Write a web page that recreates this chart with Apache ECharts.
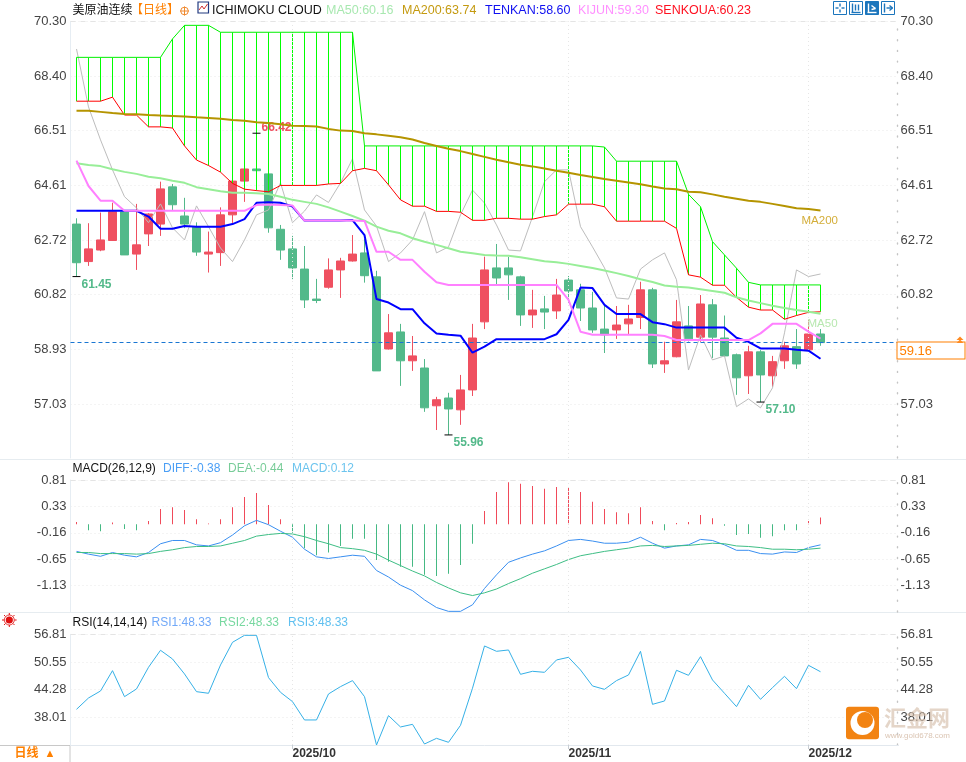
<!DOCTYPE html>
<html>
<head>
<meta charset="utf-8">
<title>美原油连续</title>
<style>
html,body{margin:0;padding:0;background:#fff;}
#chart{width:966px;height:762px;}
</style>
<script src="https://cdn.jsdelivr.net/npm/echarts@6/dist/echarts.min.js"></script>
</head>
<body>
<div id="chart"></div>
<script>
// trading days, the last six are the empty space on the right of the chart
var dates = ["2025/09/05","2025/09/08","2025/09/09","2025/09/10","2025/09/11","2025/09/12","2025/09/15","2025/09/16","2025/09/17","2025/09/18","2025/09/19","2025/09/22","2025/09/23","2025/09/24","2025/09/25","2025/09/26","2025/09/29","2025/09/30",
    "2025/10/01","2025/10/02","2025/10/03","2025/10/06","2025/10/07","2025/10/08","2025/10/09","2025/10/10","2025/10/13","2025/10/14","2025/10/15","2025/10/16","2025/10/17","2025/10/20","2025/10/21","2025/10/22","2025/10/23","2025/10/24","2025/10/27","2025/10/28","2025/10/29","2025/10/30","2025/10/31",
    "2025/11/03","2025/11/04","2025/11/05","2025/11/06","2025/11/07","2025/11/10","2025/11/11","2025/11/12","2025/11/13","2025/11/14","2025/11/17","2025/11/18","2025/11/19","2025/11/20","2025/11/21","2025/11/24","2025/11/25","2025/11/26","2025/11/27","2025/11/28",
    "2025/12/01","2025/12/02","2025/12/03","2025/12/04","2025/12/05","2025/12/08","2025/12/09","2025/12/10"];
var monthStarts = ["2025/10/01","2025/11/03","2025/12/01"];

var priceTicks = [70.30,68.40,66.51,64.61,62.72,60.82,58.93,57.03];
var macdTicks = [0.81,0.33,-0.16,-0.65,-1.13];
var rsiTicks = [56.81,50.55,44.28,38.01];

var opens = [63.27,61.97,62.37,62.70,63.69,62.23,62.93,63.27,64.56,63.55,63.18,62.23,62.28,63.59,64.76,65.18,65.01,63.09,62.41,61.71,60.67,61.08,61.68,61.99,62.27,61.44,58.94,59.53,58.53,58.28,56.97,57.24,56.83,57.52,59.88,61.75,61.75,61.44,60.12,60.33,60.26,61.33,60.99,60.36,59.63,59.60,59.81,60.03,60.99,58.42,58.67,59.74,59.35,60.47,59.32,58.74,58.01,58.84,58.01,58.53,59.02,58.91,59.46];
var closes = [61.93,62.41,62.72,63.70,62.20,62.55,63.62,64.49,63.94,63.27,62.30,62.30,63.59,64.76,65.18,65.12,63.14,62.37,61.75,60.64,60.62,61.68,61.99,62.23,61.48,58.18,59.50,58.53,58.70,56.90,57.18,56.86,57.52,59.32,61.68,61.40,61.51,60.12,60.29,60.22,60.81,60.95,60.36,59.60,59.43,59.77,59.98,60.99,58.42,58.53,59.88,59.29,60.50,59.35,58.70,57.94,58.84,58.04,58.50,59.05,58.42,59.46,59.16];
var lows = [61.45,61.82,62.33,62.69,62.20,61.68,62.51,62.86,63.76,63.13,62.17,61.59,61.82,63.31,64.04,64.90,62.97,62.03,61.36,60.36,60.53,61.03,60.71,61.97,61.24,58.18,58.92,57.66,58.18,56.76,56.13,55.96,56.31,57.31,59.63,61.19,60.64,59.74,59.67,59.63,59.98,60.54,59.91,59.50,58.80,59.29,59.46,59.63,58.28,58.11,58.65,59.20,59.19,58.63,58.67,57.35,57.38,57.10,57.63,58.25,58.25,58.89,59.05];
var highs = [63.47,63.30,63.67,64.01,63.72,63.97,63.65,64.74,64.66,64.18,63.33,63.01,63.85,64.78,65.20,66.42,65.15,63.24,62.86,62.51,61.37,62.08,62.10,62.89,62.75,61.65,60.15,59.81,59.39,58.59,57.28,57.42,58.04,59.81,62.14,62.58,62.13,61.48,60.99,60.78,61.37,61.47,61.20,60.92,60.47,60.43,60.47,61.27,61.06,59.19,60.64,60.43,60.81,60.67,60.10,58.78,59.05,58.90,58.70,59.19,59.63,59.95,59.63];

var ma50 = [65.38,65.32,65.28,65.17,65.08,65.01,64.91,64.86,64.77,64.70,64.55,64.48,64.41,64.36,64.36,64.34,64.31,64.22,64.11,64.04,63.97,63.85,63.70,63.55,63.39,63.18,63.04,62.95,62.78,62.66,62.55,62.43,62.31,62.26,62.20,62.18,62.17,62.12,62.05,61.98,61.95,61.89,61.82,61.75,61.66,61.57,61.47,61.36,61.26,61.14,61.10,61.07,61.01,60.95,60.89,60.73,60.62,60.53,60.44,60.36,60.29,60.23,60.16];
var ma200 = [67.20,67.20,67.16,67.12,67.09,67.08,67.05,67.03,67.02,67.00,66.97,66.95,66.92,66.88,66.85,66.80,66.77,66.73,66.68,66.67,66.65,66.57,66.51,66.50,66.42,66.38,66.33,66.28,66.20,66.08,65.98,65.88,65.80,65.70,65.60,65.50,65.41,65.33,65.27,65.20,65.12,65.05,64.97,64.90,64.83,64.77,64.71,64.65,64.57,64.50,64.48,64.39,64.37,64.30,64.22,64.15,64.08,64.04,63.97,63.90,63.82,63.79,63.74];
var tenkan = [63.73,63.73,63.73,63.73,63.73,63.73,63.53,63.11,63.11,63.20,63.18,63.18,63.18,63.27,63.44,64.01,64.03,64.01,63.88,63.39,63.39,63.39,63.39,63.41,62.89,60.67,60.55,60.32,60.32,59.83,59.48,59.43,59.40,58.81,59.02,59.28,59.28,59.28,59.28,59.28,59.45,59.95,61.07,61.05,60.47,60.15,60.15,60.15,59.87,59.80,59.68,59.68,59.68,59.68,59.68,59.33,59.19,58.96,58.96,58.96,58.91,58.88,58.60];
var kijun = [65.47,64.59,64.08,64.08,63.73,63.73,63.73,63.73,63.73,63.73,63.73,63.73,63.73,63.73,63.73,63.93,63.95,63.93,63.91,63.39,63.39,63.39,63.39,63.39,63.38,62.31,62.31,62.03,62.03,61.62,61.25,61.16,61.16,61.16,61.16,61.16,61.16,61.16,61.16,61.16,61.16,60.64,59.54,59.43,59.43,59.43,59.43,59.43,59.43,59.39,59.25,59.25,59.25,59.25,59.25,59.25,59.25,59.48,59.81,59.81,59.81,59.54,59.30];
var senkouA = [67.53,67.53,67.53,67.67,67.05,67.05,66.64,66.64,66.60,65.98,65.49,65.30,65.07,64.68,64.48,64.43,64.39,64.61,64.61,64.61,64.61,64.66,64.68,65.12,65.20,65.12,64.63,64.11,63.89,63.89,63.71,63.71,63.68,63.40,63.40,63.47,63.47,63.44,63.44,63.53,63.59,63.96,63.96,63.96,63.87,63.37,63.37,63.37,63.37,63.37,63.12,61.51,61.43,61.15,61.15,60.73,60.39,60.29,60.29,59.97,60.10,60.21,60.23];
var senkouB = [69.05,69.05,69.05,69.05,69.05,69.05,69.05,69.05,69.69,70.16,70.16,70.16,69.92,69.92,69.92,69.92,69.92,69.92,69.92,69.92,69.92,69.92,69.92,69.92,65.98,65.98,65.98,65.98,65.98,65.98,65.98,65.98,65.98,65.98,65.98,65.98,65.98,65.98,65.98,65.98,65.98,65.98,65.98,65.98,65.94,65.45,65.45,65.45,65.45,65.45,65.45,64.30,63.87,62.66,62.20,61.74,61.25,61.16,61.16,61.16,61.16,61.16,61.16];
var chikou = [69.34,67.33,66.19,65.15,64.22,63.83,63.32,63.97,63.14,62.72,63.90,63.18,62.44,61.97,62.72,63.59,63.76,64.70,63.32,63.72,64.28,64.02,64.70,65.53,63.76,63.20,61.97,62.27,62.72,63.70,62.27,62.48,63.59,64.45,64.00,63.24,62.37,62.34,63.52,64.74,65.15,65.15,63.18,62.48,61.75,60.71,60.67,61.71,62.03,62.27,61.34,58.21,59.43,58.56,58.70,56.94,57.21,56.90,57.59,59.50,61.68,61.45,61.54];

var macdBars = [0.04,-0.11,-0.13,0.03,-0.09,-0.11,0.06,0.28,0.31,0.26,0.09,0.01,0.09,0.31,0.50,0.57,0.35,0.09,-0.16,-0.44,-0.57,-0.52,-0.40,-0.27,-0.27,-0.66,-0.69,-0.78,-0.78,-0.93,-0.95,-0.91,-0.75,-0.36,0.24,0.59,0.77,0.74,0.70,0.65,0.68,0.68,0.59,0.41,0.28,0.22,0.20,0.31,0.06,-0.11,0.02,0.04,0.17,0.11,-0.03,-0.20,-0.18,-0.25,-0.22,-0.11,-0.11,0.06,0.12];
var diff = [-0.50,-0.55,-0.59,-0.52,-0.57,-0.60,-0.52,-0.36,-0.30,-0.30,-0.38,-0.40,-0.34,-0.20,-0.03,0.07,-0.01,-0.13,-0.24,-0.46,-0.60,-0.63,-0.60,-0.57,-0.59,-0.85,-0.97,-1.12,-1.22,-1.39,-1.53,-1.60,-1.60,-1.48,-1.18,-0.93,-0.70,-0.62,-0.55,-0.49,-0.40,-0.30,-0.28,-0.31,-0.35,-0.35,-0.33,-0.24,-0.35,-0.44,-0.40,-0.38,-0.28,-0.30,-0.38,-0.48,-0.48,-0.54,-0.55,-0.51,-0.52,-0.43,-0.38];
var dea = [-0.52,-0.52,-0.54,-0.54,-0.54,-0.55,-0.54,-0.50,-0.47,-0.43,-0.41,-0.41,-0.40,-0.35,-0.30,-0.22,-0.19,-0.17,-0.18,-0.23,-0.30,-0.36,-0.43,-0.45,-0.48,-0.55,-0.66,-0.76,-0.86,-0.95,-1.07,-1.17,-1.26,-1.31,-1.26,-1.19,-1.09,-1.00,-0.90,-0.82,-0.74,-0.65,-0.58,-0.54,-0.50,-0.47,-0.44,-0.40,-0.39,-0.41,-0.40,-0.39,-0.37,-0.35,-0.36,-0.40,-0.41,-0.43,-0.46,-0.46,-0.47,-0.46,-0.44];
var rsi = [39.82,42.39,43.97,48.58,42.69,44.43,49.34,53.19,51.22,47.83,43.82,43.45,49.86,55.00,56.58,56.58,47.00,43.67,41.56,37.41,37.41,43.30,44.96,46.32,42.69,31.74,38.39,35.82,36.42,31.97,33.25,32.35,36.20,44.60,54.17,52.96,53.26,47.75,48.43,48.20,51.00,51.60,48.73,45.11,44.35,46.32,47.60,52.96,40.95,41.71,48.66,47.52,51.75,46.47,43.45,40.43,45.26,42.09,44.73,47.30,44.50,49.79,48.33];

var lastPrice = 59.16;
var RED = "#EF5060", GREEN = "#53B98A";
var FONT = '"Liberation Sans","Noto Sans CJK SC",sans-serif';

var candleData = opens.map(function(o,i){ return [o,closes[i],lows[i],highs[i]]; });
var cloudData = senkouA.map(function(a,i){ return [i,a,senkouB[i]]; });

function renderCloud(params,api){
    var p1 = api.coord([api.value(0),api.value(1)]);
    var p2 = api.coord([api.value(0),api.value(2)]);
    return {type:"line",shape:{x1:p1[0],y1:p1[1],x2:p2[0],y2:p2[1]},style:{stroke:"#00FF00",lineWidth:1}};
}
function lineSeries(name,data,color,width,xIdx,yIdx,z){
    return {name:name,type:"line",data:data,xAxisIndex:xIdx,yAxisIndex:yIdx,showSymbol:false,symbol:"none",z:z,
        lineStyle:{color:color,width:width},silent:true};
}
// top dashed border and the month lines of a pane
function paneLines(topValue){
    var items = [{yAxis:topValue,lineStyle:{type:[5,5],color:"#e4e4e4",width:1}}];
    monthStarts.forEach(function(d){ items.push({xAxis:d,lineStyle:{type:[1,3],color:"#e6e6e6",width:1}}); });
    return {silent:true,symbol:"none",label:{show:false},data:items};
}
function extremePoint(i,value,text,color,dy){
    return {coord:[i,value],symbol:"rect",symbolSize:[8,1],itemStyle:{color:"#000"},
        label:{show:true,formatter:text,position:"right",distance:1,offset:[0,dy],color:color,fontSize:12,fontWeight:"bold",fontFamily:FONT}};
}
function xAxisOf(grid,showLabel){
    return {type:"category",gridIndex:grid,data:dates,boundaryGap:true,
        axisLine:{show:showLabel,lineStyle:{color:"#e2e8ee"}},
        axisTick:{show:showLabel,alignWithLabel:true,length:4,lineStyle:{color:"#c8ced4"},interval:function(i,v){ return monthStarts.indexOf(v)>=0; }},
        axisLabel:{show:showLabel,align:"left",margin:3,color:"#333",fontSize:12,fontWeight:"bold",fontFamily:FONT,
            interval:function(i,v){ return monthStarts.indexOf(v)>=0; },
            formatter:function(v){ return v.slice(0,7); }},
        splitLine:{show:false}};
}
function yAxisOf(grid,min,max,ticks,right){
    return {type:"value",gridIndex:grid,min:min,max:max,position:right?"right":"left",offset:right?-1:0,
        axisLine:{show:true,lineStyle:right?{color:"#c4c4c4",type:[1,9.7],width:1.4}:{color:"#e6edf3",width:1}},
        axisTick:{show:false,customValues:ticks},
        axisLabel:{customValues:ticks,margin:right?3:4,color:"#444",fontSize:13,fontFamily:FONT,
            formatter:function(v){ return v.toFixed(2); }},
        splitLine:{show:!right,lineStyle:{color:"#e8e8e8",type:[1,3],width:1}}};
}
function headText(x,y,text,color,size,weight){
    return {type:"text",x:x,y:y,silent:true,style:{text:text,fill:color,fontSize:size||12,fontWeight:weight||"normal",fontFamily:FONT,verticalAlign:"middle"}};
}
function toolIcon(x,filled,lines){
    var fg = filled?"#fff":"#1B75BC";
    var kids = [{type:"rect",shape:{x:0,y:0,width:13,height:13},style:{fill:filled?"#1B75BC":"#fff",stroke:"#1B75BC",lineWidth:1}}];
    lines.forEach(function(l){ kids.push({type:"line",shape:{x1:l[0],y1:l[1],x2:l[2],y2:l[3]},style:{stroke:fg,lineWidth:1.4}}); });
    return {type:"group",x:x,y:1.5,silent:true,children:kids};
}

var chart = echarts.init(document.getElementById("chart"),null,{renderer:"canvas"});
var option = {
    animation:false,
    backgroundColor:"#fff",
    textStyle:{fontFamily:FONT},
    tooltip:{show:false},
    grid:[
        {left:70.5,width:828,top:21.3,height:436.7},
        {left:70.5,width:828,top:480,height:132},
        {left:70.5,width:828,top:634.3,height:110.7}
    ],
    xAxis:[xAxisOf(0,false),xAxisOf(1,false),xAxisOf(2,true)],
    yAxis:[
        yAxisOf(0,55.16,70.30,priceTicks,false),yAxisOf(0,55.16,70.30,priceTicks,true),
        yAxisOf(1,-1.612,0.81,macdTicks,false),yAxisOf(1,-1.612,0.81,macdTicks,true),
        yAxisOf(2,31.74,56.81,rsiTicks,false),yAxisOf(2,31.74,56.81,rsiTicks,true)
    ],
    series:[
        {name:"K",type:"candlestick",data:candleData,xAxisIndex:0,yAxisIndex:0,barWidth:9,z:2,silent:true,
            itemStyle:{color:RED,color0:GREEN,borderColor:RED,borderColor0:GREEN,borderWidth:1},
            markPoint:{silent:true,data:[
                extremePoint(15,66.42,"66.42",RED,-6),
                extremePoint(0,61.45,"61.45",GREEN,8),
                extremePoint(31,55.96,"55.96",GREEN,8),
                extremePoint(57,57.10,"57.10",GREEN,8)
            ]},
            markLine:{silent:true,symbol:"none",data:[{yAxis:lastPrice,
                lineStyle:{color:"#1976D2",type:[4,3],width:1},
                label:{show:true,position:"end",distance:-1,formatter:"59.16",color:"#FF7F00",fontSize:13,fontFamily:FONT,align:"left",verticalAlign:"top",
                    backgroundColor:"#fff",borderColor:"#FF7F00",borderWidth:1,padding:[2,0,1,2],width:65,height:13}}]}},
        lineSeries("CHIKOU",chikou,"#BDBDBD",1,0,0,3),
        {name:"CLOUD",type:"custom",data:cloudData,xAxisIndex:0,yAxisIndex:0,renderItem:renderCloud,z:4,silent:true,clip:false,
            encode:{x:0,y:[1,2]},markLine:paneLines(70.30)},
        lineSeries("SENKOUA",senkouA,"#FF0000",1,0,0,5),
        lineSeries("SENKOUB",senkouB,"#00F000",1,0,0,5),
        Object.assign(lineSeries("MA200",ma200,"#B59400",2,0,0,6),{endLabel:{show:true,formatter:"MA200",color:"#D4AE3A",fontSize:11.5,fontFamily:FONT,offset:[-27,10]}}),
        Object.assign(lineSeries("MA50",ma50,"#98EE98",2,0,0,6),{endLabel:{show:true,formatter:"MA50",color:"#B8E8B0",fontSize:11.5,fontFamily:FONT,offset:[-21,10]}}),
        lineSeries("TENKAN",tenkan,"#0000FF",2,0,0,7),
        lineSeries("KIJUN",kijun,"#FF80FF",2,0,0,8),

        {name:"MACD",type:"bar",data:macdBars,xAxisIndex:1,yAxisIndex:2,barWidth:1,silent:true,z:2,
            itemStyle:{color:function(p){ return p.value>=0?"#F04A5A":"#45B983"; }}},
        lineSeries("DIFF",diff,"#3A8FF0",1,1,2,3),
        Object.assign(lineSeries("DEA",dea,"#3EBE85",1,1,2,3),{markLine:paneLines(0.81)}),

        Object.assign(lineSeries("RSI",rsi,"#35B0E6",1,2,4,3),{markLine:paneLines(56.81)})
    ],
    graphic:[
        {type:"line",silent:true,shape:{x1:0,y1:459.5,x2:966,y2:459.5},style:{stroke:"#e6ecf0",lineWidth:1}},
        {type:"line",silent:true,shape:{x1:0,y1:612.5,x2:966,y2:612.5},style:{stroke:"#e6ecf0",lineWidth:1}},
        headText(72.5,10.5,"美原油连续","#111",12),
        headText(131,10.5,"【日线】","#FF8000",12),
        {type:"circle",silent:true,shape:{cx:184.5,cy:11,r:3.8},style:{fill:"none",stroke:"#F08A30",lineWidth:1}},
        {type:"line",silent:true,shape:{x1:180,y1:11,x2:189,y2:11},style:{stroke:"#F08A30",lineWidth:1}},
        {type:"line",silent:true,shape:{x1:184.5,y1:6.5,x2:184.5,y2:15.5},style:{stroke:"#F08A30",lineWidth:1}},
        {type:"rect",silent:true,shape:{x:198,y:2,width:10.5,height:11},style:{fill:"#fff",stroke:"#223A80",lineWidth:1.2}},
        {type:"polyline",silent:true,shape:{points:[[199,10],[202,6],[204,9],[207.5,4]]},style:{stroke:"#D03030",fill:"none",lineWidth:1}},
        headText(212,10.5,"ICHIMOKU CLOUD","#111",12.5),
        headText(326,10.5,"MA50:60.16","#A8E8B0",12.5),
        headText(402,10.5,"MA200:63.74","#C49A10",12.5),
        headText(485,10.5,"TENKAN:58.60","#1010F0",12.5),
        headText(578,10.5,"KIJUN:59.30","#FF90FF",12.5),
        headText(655,10.5,"SENKOUA:60.23","#FF1020",12.5),

        toolIcon(833.5,false,[[6.5,2,6.5,5],[6.5,8,6.5,11],[2,6.5,5,6.5],[8,6.5,11,6.5]]),
        toolIcon(849.5,false,[[3,2,3,11],[2,11,11,11],[6,3,6,9],[9,3,9,9]]),
        toolIcon(865.5,true,[[3,2,3,11],[2,11,11,11],[6,4,10,7],[6,8,10,7]]),
        toolIcon(881.5,false,[[3,2,3,11],[5,6.5,11,6.5],[8,4,11,6.5],[8,9,11,6.5]]),

        headText(72.5,468.3,"MACD(26,12,9)","#111",12),
        headText(163,468.3,"DIFF:-0.38","#4A9EF5",12),
        headText(228,468.3,"DEA:-0.44","#78CC98",12),
        headText(292,468.3,"MACD:0.12","#6CC4EE",12),
        headText(72.5,622.7,"RSI(14,14,14)","#111",12),
        headText(151.5,622.7,"RSI1:48.33","#70A8F8",12),
        headText(219,622.7,"RSI2:48.33","#78D8A0",12),
        headText(288,622.7,"RSI3:48.33","#60C0F0",12),

        // sun icon by the RSI pane
        {type:"circle",silent:true,shape:{cx:9.3,cy:620,r:3.6},style:{fill:"#E01010",stroke:"#fff",lineWidth:0}},
        {type:"circle",silent:true,shape:{cx:9.3,cy:620,r:5},style:{fill:"none",stroke:"#E01010",lineWidth:0.8}},
        {type:"line",silent:true,shape:{x1:2,y1:620,x2:4,y2:620},style:{stroke:"#E01010",lineWidth:1}},
        {type:"line",silent:true,shape:{x1:14.6,y1:620,x2:16.6,y2:620},style:{stroke:"#E01010",lineWidth:1}},
        {type:"line",silent:true,shape:{x1:9.3,y1:613,x2:9.3,y2:615},style:{stroke:"#E01010",lineWidth:1}},
        {type:"line",silent:true,shape:{x1:9.3,y1:625,x2:9.3,y2:627},style:{stroke:"#E01010",lineWidth:1}},
        {type:"line",silent:true,shape:{x1:4,y1:615,x2:5.5,y2:616.5},style:{stroke:"#E01010",lineWidth:1}},
        {type:"line",silent:true,shape:{x1:13,y1:623.5,x2:14.5,y2:625},style:{stroke:"#E01010",lineWidth:1}},
        {type:"line",silent:true,shape:{x1:14.5,y1:615,x2:13,y2:616.5},style:{stroke:"#E01010",lineWidth:1}},
        {type:"line",silent:true,shape:{x1:5.5,y1:623.5,x2:4,y2:625},style:{stroke:"#E01010",lineWidth:1}},

        // period button
        {type:"rect",silent:true,shape:{x:-1,y:745.5,width:71,height:20},style:{fill:"#fff",stroke:"#c8c8c8",lineWidth:1}},
        headText(14.5,754,"日线","#FF8000",12,"bold"),
        headText(44.5,754,"▲","#FF8000",11),

        // price tag arrow
        {type:"polygon",silent:true,z:60,shape:{points:[[956.5,340],[960,336.5],[963.5,340]]},style:{fill:"#FF8A20"}},
        {type:"polygon",silent:true,z:60,shape:{points:[[956.5,343],[960,339.5],[963.5,343]]},style:{fill:"#FF8A20"}},

        // watermark
        {type:"rect",silent:true,z:50,shape:{x:846,y:706.7,width:33,height:32.5,r:3},style:{fill:"#F28312"}},
        {type:"circle",silent:true,z:51,shape:{cx:862.5,cy:723,r:12},style:{fill:"#fff"}},
        {type:"circle",silent:true,z:52,shape:{cx:865,cy:720,r:8},style:{fill:"#F28312"}},
        {type:"text",silent:true,z:53,x:884,y:720,style:{text:"汇金网",fill:"rgba(214,190,170,0.65)",fontSize:22,fontWeight:"bold",fontFamily:FONT,verticalAlign:"middle"}},
        {type:"text",silent:true,z:53,x:885,y:736,style:{text:"www.gold678.com",fill:"rgba(214,190,170,0.9)",fontSize:8,fontFamily:FONT,verticalAlign:"middle"}}
    ]
};
chart.setOption(option);
</script>
</body>
</html>
